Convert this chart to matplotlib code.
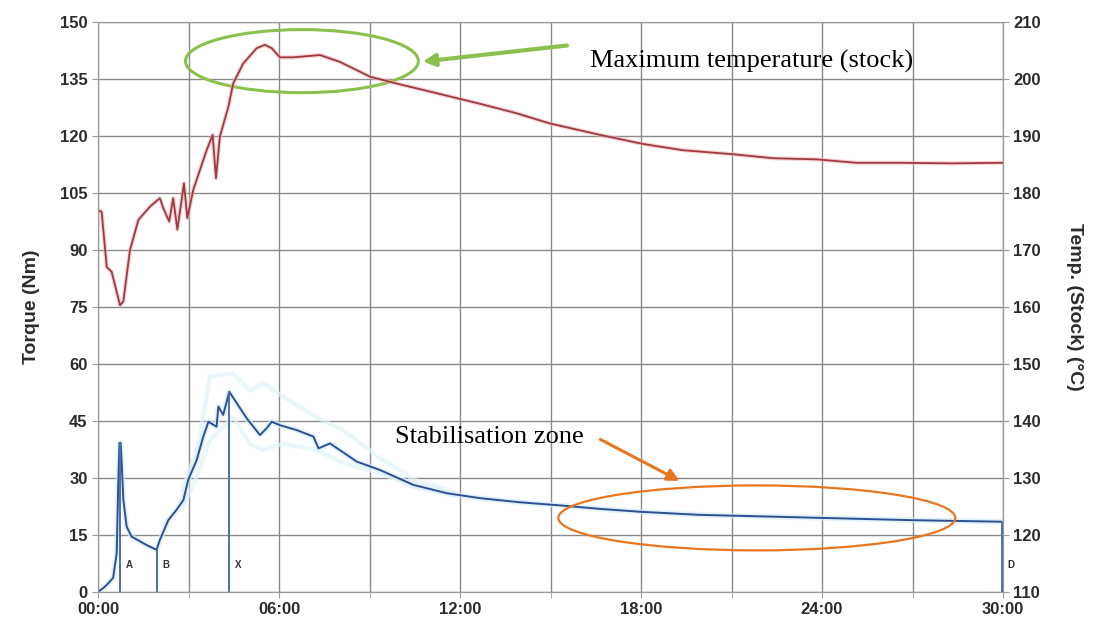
import matplotlib.pyplot as plt
from matplotlib.patches import Ellipse
from matplotlib.ticker import FuncFormatter, MultipleLocator

plt.rcParams['font.family'] = ['Liberation Sans', 'DejaVu Sans']

# Time in minutes
temp_time = [0, 0.12, 0.29, 0.45, 0.73, 0.84, 1.06, 1.34, 1.72, 2.05, 2.16, 2.36, 2.49,
             2.63, 2.85, 2.96, 3.16, 3.6, 3.8, 3.91, 4.04, 4.32, 4.48, 4.81, 5.26, 5.53,
             5.76, 6.03, 6.47, 7.36, 8.02, 9.02, 9.9, 11.0, 12.7, 13.87, 14.98, 16.64,
             18.07, 19.4, 21.05, 22.38, 23.82, 25.14, 26.58, 28.3, 30.0]
temp_stock = [177, 176.7, 167, 166.2, 160.3, 161, 170, 175.3, 177.6, 179.1, 177.4, 175,
              179.1, 173.6, 181.7, 175.6, 180.6, 187.5, 190.2, 182.6, 189.9, 195.1, 199.2,
              202.7, 205.4, 206, 205.4, 203.8, 203.8, 204.2, 203, 200.4, 199.2, 197.8,
              195.6, 194, 192.2, 190.2, 188.6, 187.5, 186.8, 186.1, 185.9, 185.3, 185.3,
              185.2, 185.3]

torque_time = [0, 0.23, 0.34, 0.5, 0.62, 0.67, 0.71, 0.75, 0.79, 0.84, 0.95, 1.11, 1.6,
               1.94, 2.05, 2.33, 2.6, 2.83, 2.99, 3.27, 3.49, 3.66, 3.93, 3.99, 4.15, 4.35,
               4.6, 4.93, 5.37, 5.59, 5.76, 6.03, 6.59, 7.14, 7.31, 7.69, 8.58, 9.35, 10.45,
               11.56, 12.66, 14.0, 15.3, 16.6, 18.0, 19.95, 22.0, 24.0, 27.0, 29.95]
torque = [0, 1.4, 2.3, 3.7, 10.2, 28, 39.2, 39.2, 33, 24.2, 17.2, 14.6, 12.4, 11.1, 13.7,
          18.9, 21.6, 24.2, 29.5, 34.7, 40.9, 44.8, 43.5, 48.8, 46.6, 52.7, 49.7, 45.7,
          41.3, 43.1, 44.8, 43.9, 42.6, 40.9, 37.8, 39.1, 34.3, 32.1, 28.2, 26.0, 24.7,
          23.6, 22.8, 21.9, 21.1, 20.3, 19.9, 19.5, 18.9, 18.5]

# faint min / max envelope of the torque trace
env_time = [2.8, 3.3, 3.71, 4.48, 5.03, 5.47, 6.13, 7.24, 8.12, 9.45, 10.5, 11.8]
env_upper = [27, 38, 56.7, 57.5, 53, 55, 51.4, 46, 42.6, 34.7, 29.5, 26.5]
env_lower = [22, 31, 40, 46, 39, 37.4, 39, 37.4, 34, 31, 27.5, 25.5]

# event markers
marker_labels = ['A', 'B', 'X', 'D']
marker_time = [0.73, 1.95, 4.35, 29.95]
marker_torque = [39.2, 11.1, 52.7, 18.5]

fig = plt.figure(figsize=(11.05, 6.25), dpi=100)
ax = fig.add_axes([0.0887, 0.0528, 0.819, 0.912])
ax2 = ax.twinx()

grid_col = '#8a8a8a'
ax.set_xlim(0, 30)
ax.set_ylim(0, 150)
ax2.set_ylim(110, 210)
ax.xaxis.set_major_locator(MultipleLocator(6))
ax.xaxis.set_minor_locator(MultipleLocator(3))
ax.yaxis.set_major_locator(MultipleLocator(15))
ax2.yaxis.set_major_locator(MultipleLocator(10))
ax.xaxis.set_major_formatter(FuncFormatter(lambda v, p: f"{int(v):02d}:00"))
ax.grid(True, which='both', axis='x', color=grid_col, lw=1)
ax.grid(True, which='major', axis='y', color=grid_col, lw=1)
ax.set_axisbelow(True)

for a in (ax, ax2):
    for s in a.spines.values():
        s.set_color('#9a9a9a')
    a.tick_params(colors='#9a9a9a', labelcolor='#2b2b2b', labelsize=12, length=4)
    for lab in a.get_yticklabels() + a.get_xticklabels():
        lab.set_fontweight('bold')
ax.tick_params(axis='x', which='minor', colors='#9a9a9a', length=4)

ax.plot(env_time, env_upper, color='#e0f3f8', lw=3, alpha=0.7)
ax.plot(env_time, env_lower, color='#e0f3f8', lw=3, alpha=0.7)
ax.plot(torque_time, torque, color='#d6edf6', lw=4, alpha=0.7)
ax.plot(torque_time, torque, color='#2d4f94', lw=1.4)
ax.vlines(marker_time, 0, marker_torque, color='#4a6fa8', lw=1.4)
for lab, t in zip(marker_labels, marker_time):
    ax.text(t + 0.2, 7, lab, fontsize=7, fontweight='bold', color='#333333', va='center')

ax2.plot(temp_time, temp_stock, color='#f3b5b5', lw=3, alpha=0.6)
ax2.plot(temp_time, temp_stock, color='#9e3a42', lw=1.3)

ax.set_ylabel('Torque (Nm)', fontsize=14, fontweight='bold', color='#2b2b2b', labelpad=14)
ax2.set_ylabel('Temp. (Stock) (°C)', fontsize=14, fontweight='bold', color='#2b2b2b',
               rotation=270, labelpad=30)

# annotations
green = '#8cc04e'
orange = '#e8761f'
ax2.add_patch(Ellipse((6.76, 139.7), 7.72, 16.6, transform=ax.transData,
                      fill=False, ec=green, lw=2.2, clip_on=False))
ax2.add_patch(Ellipse((21.84, 19.5), 13.16, 17.1, transform=ax.transData,
                      fill=False, ec=orange, lw=1.6, clip_on=False))
ax2.annotate('', xy=(10.67, 139.5), xytext=(15.64, 143.9),
             xycoords=ax.transData, textcoords=ax.transData,
             arrowprops=dict(arrowstyle='-|>', color=green, lw=3, mutation_scale=18))
ax2.annotate('', xy=(19.36, 28.9), xytext=(16.57, 40.5),
             xycoords=ax.transData, textcoords=ax.transData,
             arrowprops=dict(arrowstyle='-|>', color=orange, lw=2.2, mutation_scale=18))
ax2.text(16.3, 139.7, 'Maximum temperature (stock)', transform=ax.transData,
         family='Liberation Serif', fontsize=19, va='center', ha='left')
ax2.text(9.84, 40.8, 'Stabilisation zone', transform=ax.transData,
         family='Liberation Serif', fontsize=19, va='center', ha='left')

plt.savefig('out.png', dpi=100)
